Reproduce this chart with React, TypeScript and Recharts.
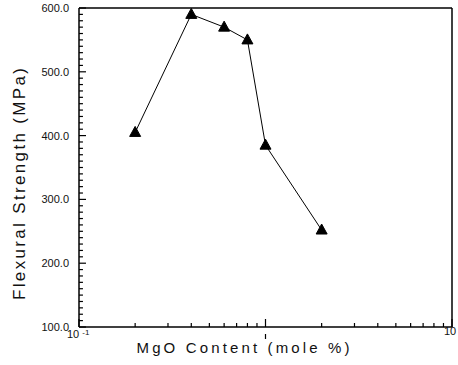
import React from "react";
import { LineChart, Line, XAxis, YAxis, ReferenceLine } from "recharts";

// MgO content (mole %) and flexural strength (MPa)
const mgoContent = [0.2, 0.4, 0.6, 0.8, 1.0, 2.0];
const flexuralStrength = [405, 590, 570, 550, 385, 252];

const yMajorTicks = [100, 200, 300, 400, 500, 600];
const xMajorTicks = [0.1, 1, 10];
const xDecadeSteps = [1, 2, 3, 4, 5, 6, 7, 8, 9];

const data = mgoContent.map((x, i) => ({ x, y: flexuralStrength[i] }));

const yTicks: number[] = [];
for (let v = 100; v <= 600; v += 10) yTicks.push(v);

const xTicks: number[] = [];
[0.1, 1].forEach((base) =>
  xDecadeSteps.forEach((s) => xTicks.push(Number((base * s).toFixed(2))))
);
xTicks.push(10);

// inner y tick length, given in x units on the log axis (about 4px / 7px)
const MINOR_TICK_END = 0.105;
const MAJOR_TICK_END = 0.109;

const FONT = "'Liberation Sans', Arial, sans-serif";
const frame = { stroke: "#000", strokeWidth: 1.5 };

const renderYLabel = (props: any) => {
  const x = Number(props.x);
  const y = Number(props.y);
  const v = props.payload.value;
  return (
    <g key={`yl-${v}`}>
      <text x={x - 10} y={y + 4} textAnchor="end" fontSize={11} fontFamily={FONT} fill="#111">
        {v.toFixed(1)}
      </text>
    </g>
  );
};

const renderXTick = (props: any) => {
  const x = Number(props.x);
  const y = Number(props.y);
  const v = props.payload.value;
  const major = xMajorTicks.includes(v);
  const len = major ? 8 : 4;
  return (
    <g key={`xt-${v}`}>
      <rect x={x - 0.6} y={y - len} width={1.2} height={len} fill="#000" />
      {v === 1 && <rect x={x - 0.6} y={y + 7} width={1.2} height={5} fill="#000" />}
      {v === 0.1 && (
        <text x={x - 12} y={y + 11} fontSize={11} fontFamily={FONT} fill="#111">
          10
          <tspan dx={3} dy={-3} fontSize={8}>
            -1
          </tspan>
        </text>
      )}
      {v === 10 && (
        <text x={x - 2} y={y + 8} textAnchor="middle" fontSize={11} fontFamily={FONT} fill="#111">
          10
        </text>
      )}
    </g>
  );
};

const renderTriangle = (props: any) => {
  const { cx, cy, index } = props;
  if (cx == null || cy == null) return <g key={`tri-${index}`} />;
  return (
    <polygon
      key={`tri-${index}`}
      points={`${cx},${cy - 6} ${cx - 5.5},${cy + 4} ${cx + 5.5},${cy + 4}`}
      fill="#000"
      stroke="#000"
    />
  );
};

export default function App() {
  return (
    <div style={{ position: "absolute", left: 0, top: 0, background: "#fff" }}>
      <LineChart
        width={458}
        height={365}
        data={data}
        margin={{ top: 8, right: 6, bottom: 0, left: 0 }}
      >
        <XAxis
          dataKey="x"
          type="number"
          scale="log"
          domain={[0.1, 10]}
          ticks={xTicks}
          interval={0}
          tickSize={0}
          tickMargin={0}
          axisLine={frame}
          tick={renderXTick}
          height={38}
        />
        <XAxis
          xAxisId="top"
          orientation="top"
          mirror
          dataKey="x"
          type="number"
          scale="log"
          domain={[0.1, 10]}
          tick={false}
          tickLine={false}
          axisLine={frame}
          height={1}
        />
        <YAxis
          type="number"
          domain={[100, 600]}
          ticks={yMajorTicks}
          interval={0}
          tickSize={0}
          tickMargin={0}
          tickLine={false}
          axisLine={frame}
          tick={renderYLabel}
          width={79}
        />
        <YAxis
          yAxisId="right"
          orientation="right"
          mirror
          type="number"
          domain={[100, 600]}
          tick={false}
          tickLine={false}
          axisLine={frame}
          width={1}
        />
        {yTicks.map((v) => (
          <ReferenceLine
            key={`ytick-${v}`}
            segment={[
              { x: 0.1, y: v },
              { x: yMajorTicks.includes(v) ? MAJOR_TICK_END : MINOR_TICK_END, y: v },
            ]}
            stroke="#000"
            strokeWidth={1.2}
            ifOverflow="visible"
          />
        ))}
        <Line
          dataKey="y"
          stroke="#000"
          strokeWidth={1}
          dot={renderTriangle}
          activeDot={false}
          isAnimationActive={false}
        />
        <text
          x={243}
          y={353}
          textAnchor="middle"
          fontSize={15}
          fontFamily={FONT}
          fill="#111"
          textLength={213}
          lengthAdjust="spacing"
        >
          MgO Content (mole %)
        </text>
        <text
          transform="translate(25,184) rotate(-90)"
          textAnchor="middle"
          fontSize={17}
          fontFamily={FONT}
          fill="#111"
          textLength={232}
          lengthAdjust="spacing"
        >
          Flexural Strength (MPa)
        </text>
      </LineChart>
    </div>
  );
}
